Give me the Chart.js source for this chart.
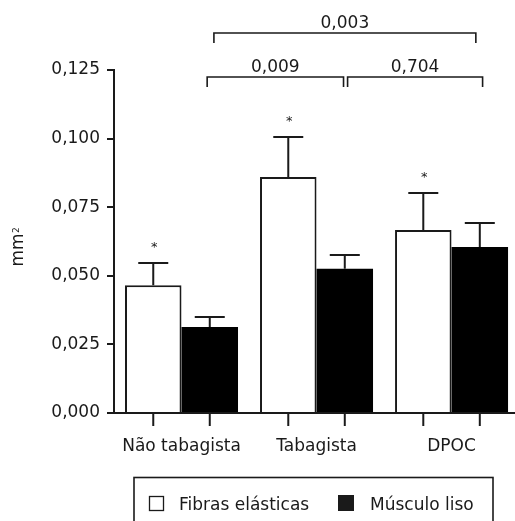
<!DOCTYPE html>
<html>
<head>
<meta charset="utf-8">
<script src="https://cdn.jsdelivr.net/npm/chart.js@4"></script>
<style>
  body { margin: 0; background: #fff; overflow: hidden; }
  #wrap { width: 515px; height: 521px; }
</style>
</head>
<body>
<div id="wrap"><canvas id="chart" width="515" height="521"></canvas></div>
<script>
// groups on the x axis
let categories = ["Não tabagista", "Tabagista", "DPOC"];
let series_names = ["Fibras elásticas", "Músculo liso"];

// mean values (mm²)
let fibras_values = [0.0466, 0.0860, 0.0667];
let musculo_values = [0.0313, 0.0526, 0.0605];

// standard deviation (upper error bar)
let fibras_sd = [0.0081, 0.0146, 0.0135];
let musculo_sd = [0.0037, 0.0050, 0.0087];

// y ticks
let y_ticks = [0, 0.025, 0.05, 0.075, 0.1, 0.125];

// p-value brackets: from / to in x axis units
let brackets = [
  { from: 0.19, to: 1.20, label: "0,009", row: 1 },
  { from: 1.23, to: 2.23, label: "0,704", row: 1 },
  { from: 0.24, to: 2.18, label: "0,003", row: 0 }
];

const FONT = "'DejaVu Sans', sans-serif";
const INK = "#1a1a1a";

function to_points(values) {
  return values.map((v, i) => ({ x: i, y: v }));
}

// draws error bars, asterisks, tick marks, brackets, y title and legend box
const extras = {
  id: 'extras',
  afterDatasetsDraw(chart) {
    const ctx = chart.ctx;
    const y = chart.scales.y;
    const x = chart.scales.x;
    const area = chart.chartArea;
    const sds = [fibras_sd, musculo_sd];
    const vals = [fibras_values, musculo_values];

    ctx.save();
    ctx.strokeStyle = INK;
    ctx.fillStyle = INK;
    ctx.lineWidth = 2;

    chart.data.datasets.forEach((ds, d) => {
      const meta = chart.getDatasetMeta(d);
      meta.data.forEach((bar, i) => {
        const top = y.getPixelForValue(vals[d][i] + sds[d][i]);
        ctx.beginPath();
        ctx.moveTo(bar.x, bar.y);
        ctx.lineTo(bar.x, top);
        ctx.moveTo(bar.x - 15, top);
        ctx.lineTo(bar.x + 15, top);
        ctx.stroke();

        // tick marks under each bar
        ctx.beginPath();
        ctx.moveTo(bar.x, area.bottom);
        ctx.lineTo(bar.x, area.bottom + 13);
        ctx.stroke();

        if (d === 0) {
          ctx.font = "13px " + FONT;
          ctx.textAlign = "center";
          ctx.textBaseline = "middle";
          ctx.fillText("*", bar.x + 1, top - 15);
        }
      });
    });

    // brackets
    const rows = [33, 77];
    ctx.lineWidth = 1.6;
    ctx.font = "17px " + FONT;
    ctx.textAlign = "center";
    ctx.textBaseline = "alphabetic";
    brackets.forEach(b => {
      const x1 = x.getPixelForValue(b.from);
      const x2 = x.getPixelForValue(b.to);
      const yy = rows[b.row];
      ctx.beginPath();
      ctx.moveTo(x1, yy + 10);
      ctx.lineTo(x1, yy);
      ctx.lineTo(x2, yy);
      ctx.lineTo(x2, yy + 10);
      ctx.stroke();
      ctx.fillText(b.label, (x1 + x2) / 2, yy - 5);
    });

    // y axis title mm²
    ctx.save();
    ctx.translate(23, 250);
    ctx.rotate(-Math.PI / 2);
    ctx.font = "17px " + FONT;
    ctx.textAlign = "center";
    ctx.textBaseline = "alphabetic";
    ctx.fillText("mm", 0, 0);
    ctx.font = "9px " + FONT;
    ctx.textAlign = "left";
    ctx.fillText("2", 17, -4);
    ctx.restore();

    // legend box
    ctx.lineWidth = 1.6;
    ctx.strokeRect(134, 477.5, 359, 60);
    ctx.lineWidth = 1.3;
    ctx.fillStyle = "#fff";
    ctx.fillRect(149.5, 496.5, 14, 14);
    ctx.strokeRect(149.5, 496.5, 14, 14);
    ctx.fillStyle = INK;
    ctx.fillRect(338, 495, 16, 16);
    ctx.font = "17px " + FONT;
    ctx.textAlign = "left";
    ctx.fillText(series_names[0], 179, 510);
    ctx.fillText(series_names[1], 370, 510);

    ctx.restore();
  }
};

const chart = new Chart(document.getElementById('chart').getContext('2d'), {
  type: 'bar',
  data: {
    datasets: [
      {
        label: series_names[0],
        data: to_points(fibras_values),
        backgroundColor: '#ffffff',
        borderColor: INK,
        borderWidth: 2,
        categoryPercentage: 0.837,
        barPercentage: 1
      },
      {
        label: series_names[1],
        data: to_points(musculo_values),
        backgroundColor: '#000000',
        borderColor: '#000000',
        borderWidth: 0,
        categoryPercentage: 0.837,
        barPercentage: 1
      }
    ]
  },
  options: {
    responsive: false,
    animation: false,
    layout: { padding: { top: 70, left: 0, right: 0, bottom: 0 } },
    plugins: {
      legend: { display: false },
      tooltip: { enabled: false }
    },
    scales: {
      x: {
        type: 'linear',
        offset: false,
        min: -0.5,
        max: 2.47,
        grid: { display: false, drawTicks: false, offset: false },
        border: { display: true, color: INK, width: 2 },
        afterBuildTicks: (scale) => {
          scale.ticks = categories.map((c, i) => ({ value: i }));
        },
        afterFit: (scale) => { scale.height = 108; },
        ticks: {
          autoSkip: false,
          maxRotation: 0,
          padding: 23,
          color: INK,
          font: { family: FONT, size: 17 },
          callback: (v) => categories[v]
        }
      },
      y: {
        min: 0,
        max: 0.125,
        afterBuildTicks: (scale) => {
          scale.ticks = y_ticks.map(v => ({ value: v }));
        },
        afterFit: (scale) => { scale.width = 114; },
        grid: { drawOnChartArea: false, tickLength: 7, color: INK, lineWidth: 2 },
        border: { display: true, color: INK, width: 2 },
        ticks: {
          padding: 7,
          color: INK,
          font: { family: FONT, size: 17 },
          callback: (v) => v.toFixed(3).replace('.', ',')
        }
      }
    }
  },
  plugins: [extras]
});
</script>
</body>
</html>
